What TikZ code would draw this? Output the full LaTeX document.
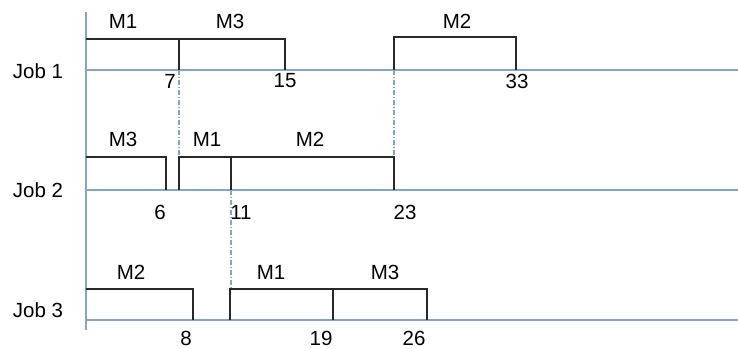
\documentclass[tikz,border=0pt]{standalone}
\usepackage{fontspec}
\setmainfont{Liberation Sans}
\definecolor{axisblue}{RGB}{130,165,200}
\definecolor{boxline}{RGB}{40,40,40}
\tikzset{
  axisline/.style={draw=axisblue, line width=1.2pt},
  boxedge/.style={draw=boxline, line width=1.4pt},
  guide/.style={draw=axisblue, line width=1.1pt, dash pattern=on 5pt off 2pt on 1pt off 2pt},
  lbl/.style={inner sep=0pt, font=\fontsize{20.5}{23}\selectfont, text=black}
}
\begin{document}
\begin{tikzpicture}[x=1pt,y=-1pt]
\useasboundingbox (0,0) rectangle (738,348);
% axes
\coordinate (vtop) at (86,12);
\coordinate (vbot) at (86,330);
\draw[axisline] (vtop) -- (vbot);
\coordinate (a1l) at (86,70);  \coordinate (a1r) at (738,70);
\coordinate (a2l) at (86,190); \coordinate (a2r) at (738,190);
\coordinate (a3l) at (86,320); \coordinate (a3r) at (738,320);
\draw[axisline] (a1l) -- (a1r);
\draw[axisline] (a2l) -- (a2r);
\draw[axisline] (a3l) -- (a3r);
% guides
\coordinate (g1a) at (179,70);  \coordinate (g1b) at (179,157);
\coordinate (g2a) at (394,70);  \coordinate (g2b) at (394,157);
\coordinate (g3a) at (231,190); \coordinate (g3b) at (231,289);
\draw[guide] (g1a) -- (g1b);
\draw[guide] (g2a) -- (g2b);
\draw[guide] (g3a) -- (g3b);
% Job 1
\draw[boxedge] (86,39) -- (285,39) -- (285,70);
\draw[boxedge] (179,39) -- (179,70);
\draw[boxedge] (394,70) -- (394,37) -- (516,37) -- (516,70);
% Job 2
\draw[boxedge] (86,157) -- (166,157) -- (166,190);
\draw[boxedge] (179,190) -- (179,157) -- (394,157) -- (394,190);
\draw[boxedge] (231,157) -- (231,190);
% Job 3
\draw[boxedge] (86,289) -- (193,289) -- (193,320);
\draw[boxedge] (230,320) -- (230,289) -- (427,289) -- (427,320);
\draw[boxedge] (333,289) -- (333,320);
% labels
\node[lbl] (j1) at (38,71) {Job 1};
\node[lbl] (j2) at (38,190) {Job 2};
\node[lbl] (j3) at (38,310) {Job 3};
\node[lbl] (m11) at (123,21) {M1};
\node[lbl] (m13) at (230,21) {M3};
\node[lbl] (m12) at (457,21) {M2};
\node[lbl] (m23) at (123,139) {M3};
\node[lbl] (m21) at (207,139) {M1};
\node[lbl] (m22) at (310,139) {M2};
\node[lbl] (m32) at (131,272) {M2};
\node[lbl] (m31) at (271,272) {M1};
\node[lbl] (m33) at (385,272) {M3};
\node[lbl] (t7) at (170,81) {7};
\node[lbl] (t15) at (285,81) {15};
\node[lbl] (t33) at (517,81) {33};
\node[lbl] (t6) at (160,212) {6};
\node[lbl] (t11) at (241,212) {11};
\node[lbl] (t23) at (405,212) {23};
\node[lbl] (t8) at (186,338) {8};
\node[lbl] (t19) at (321,338) {19};
\node[lbl] (t26) at (414,338) {26};
\end{tikzpicture}
\end{document}
